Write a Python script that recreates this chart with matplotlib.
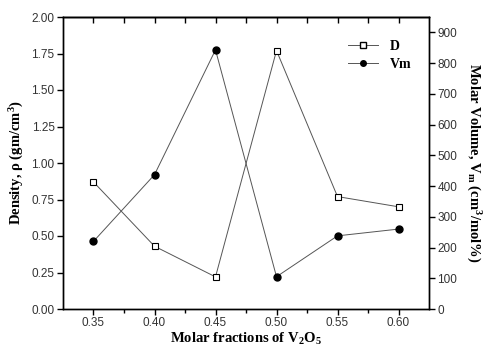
import matplotlib.pyplot as plt
from matplotlib.lines import Line2D

fractions = [0.35, 0.40, 0.45, 0.50, 0.55, 0.60]
density = [0.87, 0.43, 0.22, 1.77, 0.77, 0.70]
molar_volume = [220, 437, 843, 105, 238, 260]

plt.rcParams["mathtext.fontset"] = "custom"
plt.rcParams["mathtext.rm"] = "Liberation Serif:bold"
plt.rcParams["mathtext.it"] = "Liberation Serif:bold"
plt.rcParams["mathtext.bf"] = "Liberation Serif:bold"

serif = ["Liberation Serif", "DejaVu Serif"]
sans = ["Liberation Sans", "DejaVu Sans"]

fig = plt.figure(figsize=(4.84, 3.49), dpi=100)
ax = fig.add_axes([63 / 484, 40 / 349, 366 / 484, 292 / 349])
ax2 = ax.twinx()

ax.plot(fractions, density, color="#555555", lw=0.7, marker="s", ms=4.5,
        mfc="white", mec="black", mew=0.8)
ax2.plot(fractions, molar_volume, color="#555555", lw=0.7, marker="o", ms=5,
         mfc="black", mec="black")

ax.set_xlim(0.325, 0.625)
ax.set_ylim(0, 2.0)
ax2.set_ylim(0, 950)
ax.set_xticks(fractions)
ax.set_xticks([0.375, 0.425, 0.475, 0.525, 0.575], minor=True)
ax.set_yticks([0, 0.25, 0.5, 0.75, 1.0, 1.25, 1.5, 1.75, 2.0])
ax2.set_yticks(range(0, 901, 100))

ax.tick_params(axis="both", which="major", direction="out", length=4, width=1,
               labelsize=8.5, labelcolor="#333333", pad=2)
ax.tick_params(axis="x", which="minor", direction="out", length=3, width=1)
# top ticks point inward
ax_top = ax.secondary_xaxis("top")
ax_top.set_xticks(fractions)
ax_top.set_xticks([0.375, 0.425, 0.475, 0.525, 0.575], minor=True)
ax_top.tick_params(axis="x", which="both", direction="in", length=4, width=1,
                   labeltop=False)
ax_top.spines["top"].set_linewidth(1.0)
ax2.tick_params(axis="y", direction="out", length=4, width=1, labelsize=8.5,
                labelcolor="#333333", pad=2)
ax.set_xticklabels([f"{v:.2f}" for v in fractions], family=sans)
ax.set_yticklabels([f"{v:.2f}" for v in ax.get_yticks()], family=sans)
for t in ax2.get_yticklabels():
    t.set_family(sans)

for a in (ax, ax2):
    for s in a.spines.values():
        s.set_linewidth(1.0)

ax.set_xlabel("Molar fractions of V$_2$O$_5$", family=serif, weight="bold",
              fontsize=10.5, labelpad=1)
ax.set_ylabel("Density, ρ (gm/cm$^3$)", family=serif, weight="bold", fontsize=10.5)
ax2.set_ylabel("Molar Volume, V$_m$ (cm$^3$/mol%)", family=serif, weight="bold",
               fontsize=10.5, rotation=270, labelpad=18)

handles = [
    Line2D([], [], color="#555555", lw=0.7, marker="s", ms=4.5, mfc="white", mec="black"),
    Line2D([], [], color="#555555", lw=0.7, marker="o", ms=4, mfc="black", mec="black"),
]
leg = ax.legend(handles, ["D", "Vm"], loc="upper right", bbox_to_anchor=(0.985, 0.965),
                frameon=False, prop={"family": serif, "weight": "bold", "size": 10},
                handlelength=2.2, labelspacing=0.35)

fig.savefig("out.png", dpi=100)
